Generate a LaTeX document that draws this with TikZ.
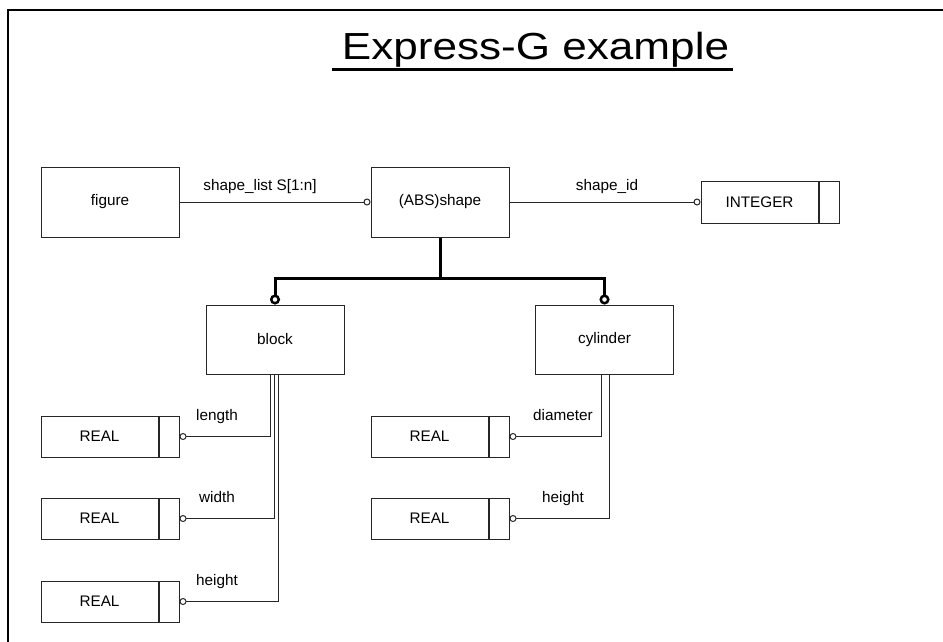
\documentclass[tikz,border=0pt]{standalone}
\usepackage{fontspec}
\setmainfont{Liberation Sans}
\usetikzlibrary{arrows.meta,calc}
\begin{document}
\begin{tikzpicture}[x=1pt,y=-1pt,
  every node/.style={font=\fontsize{15.3}{18}\selectfont, inner sep=0pt},
  ent/.style={draw=black!85, line width=1pt, minimum width=138pt, minimum height=70pt},
  typ/.style={draw=black!85, line width=1pt, minimum width=117pt, minimum height=41pt},
  cell/.style={draw=black!85, line width=1pt, minimum width=20pt, minimum height=41pt, anchor=west},
  conn/.style={draw=black!85, line width=1pt, -{Circle[open,length=7pt,width=7pt]}},
  sub/.style={draw=black, line width=3pt, -{Circle[open,length=10pt,width=10pt,line width=2.5pt]}},
  lab/.style={anchor=base}
]
\useasboundingbox (0,0) rectangle (943,642);
% frame
\draw[line width=1.5pt] (8,642) -- (8,10) -- (943,10);
% title
\node[anchor=base, font=\fontsize{37.7}{40}\selectfont] (title) at (535.5,60) {\scalebox{1.17}[1]{Express-G example}};
\draw[line width=3pt] (332,70) -- (733,70);
% entities
\node[ent] (figure) at (110,202) {figure};
\node[ent] (shape) at (440,202) {(ABS)shape};
\node[typ, minimum height=42pt] (int) at (759.5,202) {INTEGER};
\node[cell, minimum height=42pt] (intc) at (int.east) {};
\node[ent, minimum height=69pt] (block) at (275,339.5) {block};
\node[ent, minimum height=69pt] (cyl) at (604.5,339.5) {cylinder};
% REAL types, block
\node[typ] (rl1) at (99.5,436.5) {REAL};
\node[cell] (rl1c) at (rl1.east) {};
\node[typ] (rl2) at (99.5,518.5) {REAL};
\node[cell] (rl2c) at (rl2.east) {};
\node[typ] (rl3) at (99.5,601.5) {REAL};
\node[cell] (rl3c) at (rl3.east) {};
% REAL types, cylinder
\node[typ] (rc1) at (429.5,436.5) {REAL};
\node[cell] (rc1c) at (rc1.east) {};
\node[typ] (rc2) at (429.5,518.5) {REAL};
\node[cell] (rc2c) at (rc2.east) {};
% attributes of shape
\draw[conn] (figure.east) -- (shape.west);
\node[lab] (l1) at (260,190) {shape\_list S[1:n]};
\draw[conn] (shape.east) -- (int.west);
\node[lab] (l2) at (607,190) {shape\_id};
% subtypes
\coordinate (j) at (440,278);
\draw[sub] (shape.south) -- (j) -| (block.north);
\draw[sub] (j) -| (cyl.north);
% block attributes
\draw[conn] ([xshift=-5pt]block.south) |- (rl1c.east);
\draw[conn] ([xshift=-1pt]block.south) |- (rl2c.east);
\draw[conn] ([xshift=3pt]block.south) |- (rl3c.east);
\node[lab] (a1) at (217,420) {length};
\node[lab] (a2) at (217,502) {width};
\node[lab] (a3) at (217,585) {height};
% cylinder attributes
\draw[conn] ([xshift=-3.5pt]cyl.south) |- (rc1c.east);
\node[lab] (a4) at (563,420) {diameter};
\draw[conn] ([xshift=4.5pt]cyl.south) |- (rc2c.east);
\node[lab] (a5) at (563,502) {height};
\end{tikzpicture}
\end{document}
